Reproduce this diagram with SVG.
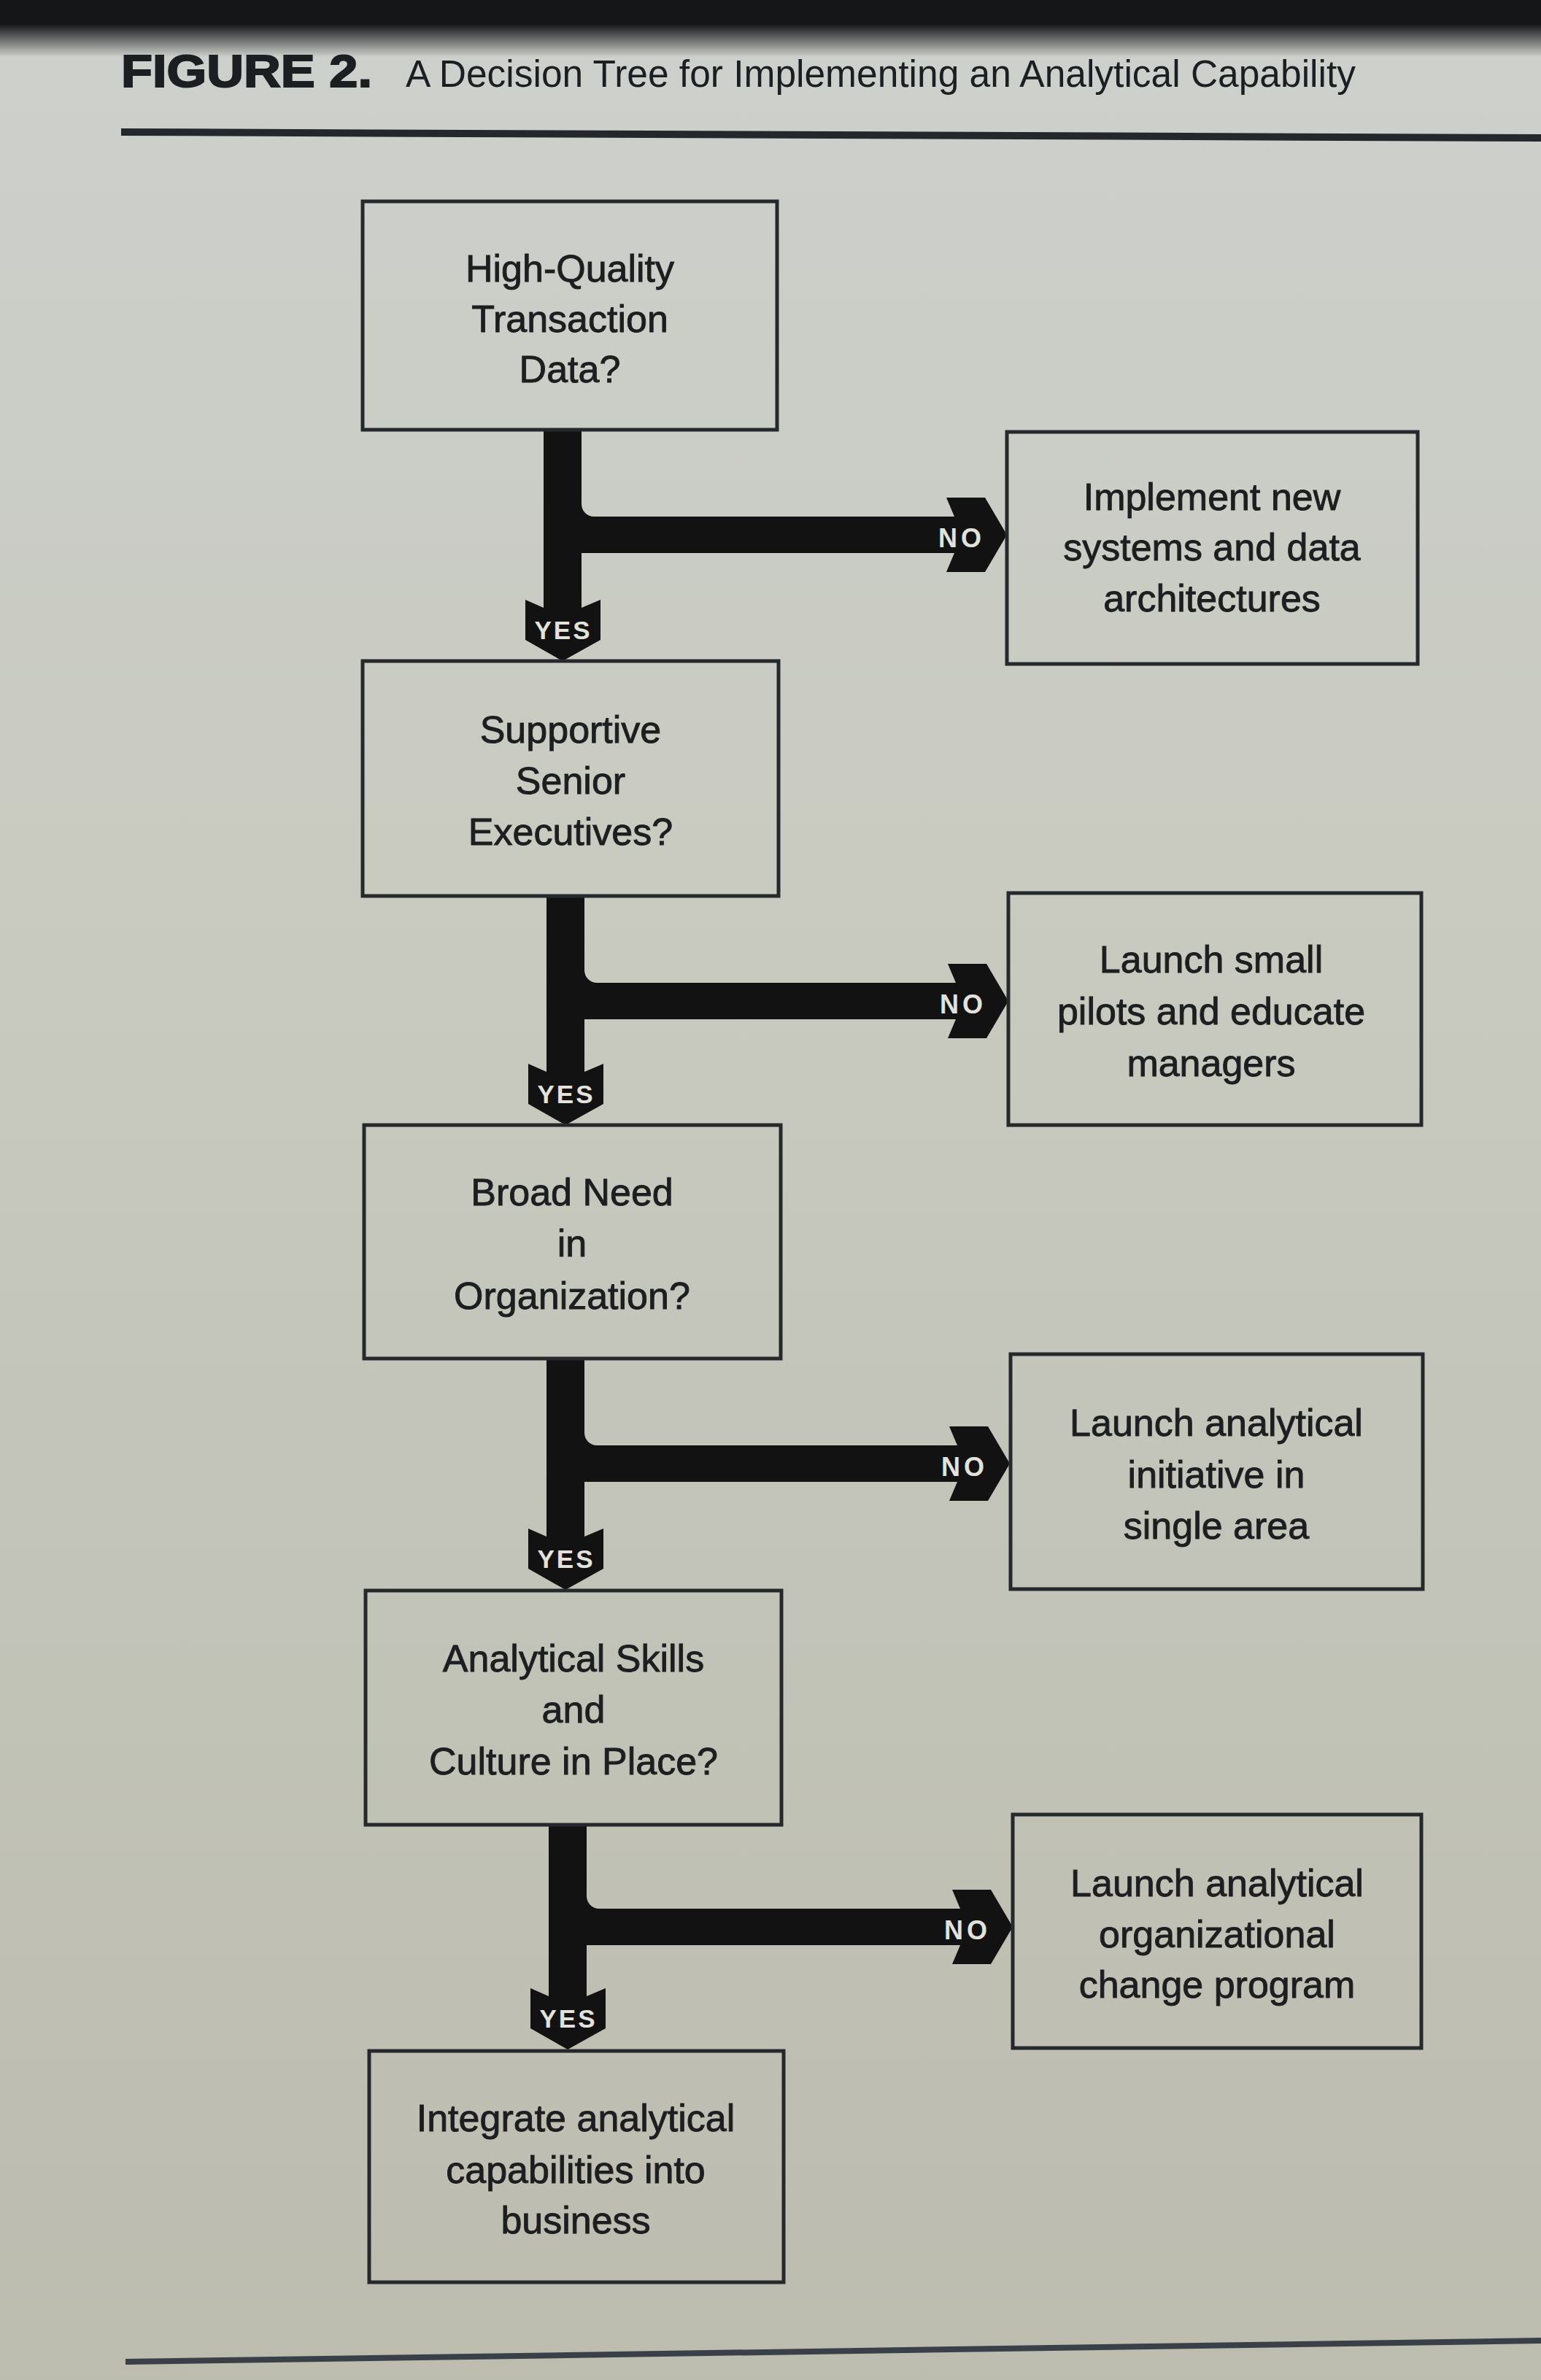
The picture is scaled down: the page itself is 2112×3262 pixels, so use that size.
<svg xmlns="http://www.w3.org/2000/svg" width="2112" height="3262" viewBox="0 0 2112 3262">
  <defs>
    <linearGradient id="page" x1="0" y1="0" x2="0" y2="1">
      <stop offset="0" stop-color="#cdd0cc"/>
      <stop offset="0.35" stop-color="#c9cbc1"/>
      <stop offset="1" stop-color="#bcbcaf"/>
    </linearGradient>
    <linearGradient id="topShade" x1="0" y1="0" x2="0" y2="1">
      <stop offset="0" stop-color="#141618" stop-opacity="1"/>
      <stop offset="1" stop-color="#141618" stop-opacity="0"/>
    </linearGradient>
  </defs>
  <style>
    .box { fill: none; stroke: #26292c; stroke-width: 5; }
    .lbl { font-family: "Liberation Sans", Arial, sans-serif; font-size: 52px; fill: #1d1e20; stroke: #1d1e20; stroke-width: 0.9; text-anchor: middle; }
    .conn { fill: #121212; }
    .tag { font-family: "Liberation Sans", Arial, sans-serif; font-weight: bold; fill: #e2e2dc; text-anchor: middle; }
    .yes { font-size: 35px; letter-spacing: 3px; }
    .no { font-size: 36px; letter-spacing: 5px; }
  </style>

  <!-- page background -->
  <rect x="0" y="0" width="2112" height="3262" fill="url(#page)"/>
  <rect x="0" y="0" width="2112" height="34" fill="#141618"/>
  <rect x="0" y="33" width="2112" height="45" fill="url(#topShade)"/>

  <!-- title -->
  <g id="title">
    <text x="166" y="119" font-family="Liberation Sans, Arial, sans-serif" font-weight="bold" font-size="63" fill="#1c1f22" stroke="#1c1f22" stroke-width="2" textLength="344" lengthAdjust="spacingAndGlyphs">FIGURE 2.</text>
    <text x="556" y="119" font-family="Liberation Sans, Arial, sans-serif" font-size="51" fill="#1c1f22" textLength="1302" lengthAdjust="spacingAndGlyphs">A Decision Tree for Implementing an Analytical Capability</text>
    <line x1="166" y1="181" x2="2112" y2="189" stroke="#24282c" stroke-width="10"/>
  </g>

  <!-- connectors -->
  <g id="connectors">
    <g id="c1">
      <rect class="conn" x="745" y="587" width="52" height="248"/>
      <polygon class="conn" points="745,833 720,822 720,877 771,906 823,877 823,822 797,833"/>
      <rect class="conn" x="795" y="708" width="515" height="50"/>
      <path class="conn" d="M797,691 A17,17 0 0 0 814,708 L797,708 Z"/>
      <polygon class="conn" points="1308,708 1297,682 1350,682 1380,733 1350,784 1297,784 1308,758"/>
      <text class="tag no" x="1318" y="750">NO</text>
      <text class="tag yes" x="772" y="876">YES</text>
    </g>
    <g id="c2">
      <rect class="conn" x="749" y="1226" width="52" height="245"/>
      <polygon class="conn" points="749,1469 724,1458 724,1513 775,1542 827,1513 827,1458 801,1469"/>
      <rect class="conn" x="799" y="1347" width="513" height="50"/>
      <path class="conn" d="M801,1330 A17,17 0 0 0 818,1347 L801,1347 Z"/>
      <polygon class="conn" points="1310,1347 1299,1321 1352,1321 1382,1372 1352,1423 1299,1423 1310,1397"/>
      <text class="tag no" x="1320" y="1389">NO</text>
      <text class="tag yes" x="776" y="1512">YES</text>
    </g>
    <g id="c3">
      <rect class="conn" x="749" y="1860" width="52" height="248"/>
      <polygon class="conn" points="749,2106 724,2095 724,2150 775,2179 827,2150 827,2095 801,2106"/>
      <rect class="conn" x="799" y="1981" width="515" height="50"/>
      <path class="conn" d="M801,1964 A17,17 0 0 0 818,1981 L801,1981 Z"/>
      <polygon class="conn" points="1312,1981 1301,1955 1354,1955 1384,2006 1354,2057 1301,2057 1312,2031"/>
      <text class="tag no" x="1322" y="2023">NO</text>
      <text class="tag yes" x="776" y="2149">YES</text>
    </g>
    <g id="c4">
      <rect class="conn" x="752" y="2499" width="52" height="239"/>
      <polygon class="conn" points="752,2736 727,2725 727,2780 778,2809 830,2780 830,2725 804,2736"/>
      <rect class="conn" x="802" y="2616" width="516" height="50"/>
      <path class="conn" d="M804,2599 A17,17 0 0 0 821,2616 L804,2616 Z"/>
      <polygon class="conn" points="1316,2616 1305,2590 1358,2590 1388,2641 1358,2692 1305,2692 1316,2666"/>
      <text class="tag no" x="1326" y="2658">NO</text>
      <text class="tag yes" x="779" y="2779">YES</text>
    </g>
  </g>

  <!-- decision nodes -->
  <g id="q1">
    <rect class="box" x="497" y="276" width="568" height="313"/>
    <text class="lbl" x="781" y="386">High-Quality</text>
    <text class="lbl" x="781" y="455">Transaction</text>
    <text class="lbl" x="781" y="524">Data?</text>
  </g>
  <g id="q2">
    <rect class="box" x="497" y="906" width="570" height="322"/>
    <text class="lbl" x="782" y="1018">Supportive</text>
    <text class="lbl" x="782" y="1088">Senior</text>
    <text class="lbl" x="782" y="1158">Executives?</text>
  </g>
  <g id="q3">
    <rect class="box" x="499" y="1542" width="571" height="320"/>
    <text class="lbl" x="784" y="1652">Broad Need</text>
    <text class="lbl" x="784" y="1722">in</text>
    <text class="lbl" x="784" y="1794">Organization?</text>
  </g>
  <g id="q4">
    <rect class="box" x="501" y="2180" width="570" height="321"/>
    <text class="lbl" x="786" y="2291">Analytical Skills</text>
    <text class="lbl" x="786" y="2361">and</text>
    <text class="lbl" x="786" y="2432">Culture in Place?</text>
  </g>
  <g id="end">
    <rect class="box" x="506" y="2811" width="568" height="317"/>
    <text class="lbl" x="789" y="2921">Integrate analytical</text>
    <text class="lbl" x="789" y="2992">capabilities into</text>
    <text class="lbl" x="789" y="3061">business</text>
  </g>

  <!-- action nodes -->
  <g id="a1">
    <rect class="box" x="1380" y="592" width="563" height="318"/>
    <text class="lbl" x="1661" y="699">Implement new</text>
    <text class="lbl" x="1661" y="768">systems and data</text>
    <text class="lbl" x="1661" y="838">architectures</text>
  </g>
  <g id="a2">
    <rect class="box" x="1382" y="1224" width="566" height="318"/>
    <text class="lbl" x="1660" y="1333">Launch small</text>
    <text class="lbl" x="1660" y="1404">pilots and educate</text>
    <text class="lbl" x="1660" y="1475">managers</text>
  </g>
  <g id="a3">
    <rect class="box" x="1385" y="1856" width="565" height="322"/>
    <text class="lbl" x="1667" y="1968">Launch analytical</text>
    <text class="lbl" x="1667" y="2039">initiative in</text>
    <text class="lbl" x="1667" y="2109">single area</text>
  </g>
  <g id="a4">
    <rect class="box" x="1388" y="2487" width="560" height="320"/>
    <text class="lbl" x="1668" y="2599">Launch analytical</text>
    <text class="lbl" x="1668" y="2669">organizational</text>
    <text class="lbl" x="1668" y="2738">change program</text>
  </g>

  <!-- bottom rule -->
  <line x1="172" y1="3237" x2="2112" y2="3208" stroke="#3a4048" stroke-width="8"/>
</svg>
